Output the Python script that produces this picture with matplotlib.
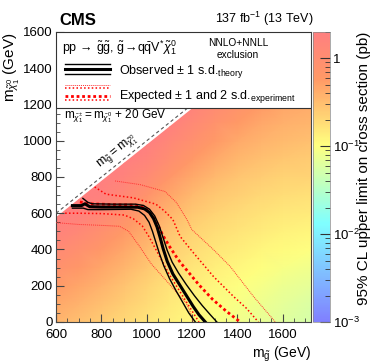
import numpy as np
import matplotlib
matplotlib.use('Agg')
import matplotlib.pyplot as plt
import matplotlib.tri as mtri
from matplotlib.colors import LinearSegmentedColormap, LogNorm
from matplotlib.ticker import MultipleLocator, FixedLocator, LogLocator, NullFormatter
from matplotlib.patches import Rectangle

plt.rcParams['font.family'] = ['Liberation Sans', 'DejaVu Sans']
plt.rcParams['mathtext.fontset'] = 'custom'
plt.rcParams['mathtext.rm'] = 'Liberation Sans'
plt.rcParams['mathtext.it'] = 'Liberation Sans:italic'
plt.rcParams['mathtext.bf'] = 'Liberation Sans:bold'

# ---------------- data ----------------
mg_cols = [600, 700, 800, 900, 1000, 1100, 1200, 1300, 1400, 1500, 1600, 1725]
mlsp_rows = [0, 100, 200, 300, 400, 500, 600, 700, 800, 900, 1000, 1100, 1200, 1300, 1400, 1500]
N = None
limit_table = [
    [0.36, 0.30, 0.25, 0.20, 0.165, 0.135, 0.115, 0.095, 0.085, 0.072, 0.062, 0.052],
    [0.45, 0.37, 0.30, 0.24, 0.19, 0.15, 0.125, 0.105, 0.092, 0.080, 0.068, 0.058],
    [0.60, 0.48, 0.37, 0.29, 0.22, 0.17, 0.14, 0.118, 0.102, 0.090, 0.078, 0.068],
    [0.85, 0.65, 0.48, 0.36, 0.27, 0.20, 0.16, 0.135, 0.118, 0.104, 0.092, 0.082],
    [1.20, 0.92, 0.65, 0.46, 0.33, 0.24, 0.19, 0.16, 0.14, 0.122, 0.110, 0.100],
    [1.65, 1.30, 0.90, 0.60, 0.42, 0.29, 0.22, 0.185, 0.162, 0.145, 0.130, 0.120],
    [N, 1.75, 1.30, 0.85, 0.55, 0.36, 0.27, 0.22, 0.19, 0.17, 0.155, 0.145],
    [N, N, 1.80, 1.25, 0.78, 0.48, 0.34, 0.27, 0.23, 0.20, 0.185, 0.175],
    [N, N, N, 1.70, 1.15, 0.68, 0.45, 0.34, 0.28, 0.245, 0.22, 0.21],
    [N, N, N, N, 1.60, 1.00, 0.62, 0.44, 0.35, 0.30, 0.27, 0.25],
    [N, N, N, N, N, 1.40, 0.90, 0.60, 0.45, 0.37, 0.33, 0.30],
    [N, N, N, N, N, N, 1.25, 0.82, 0.58, 0.46, 0.40, 0.36],
    [N, N, N, N, N, N, N, 1.15, 0.78, 0.58, 0.48, 0.43],
    [N, N, N, N, N, N, N, N, 1.05, 0.75, 0.60, 0.52],
    [N, N, N, N, N, N, N, N, N, 0.95, 0.75, 0.62],
    [N, N, N, N, N, N, N, N, N, N, 0.90, 0.72],
]
# limits just below the diagonal (m_LSP = m_gluino - 25 GeV)
diag_offset = 25
diag_limit = [2.0, 2.0, 2.0, 2.0, 2.0, 1.8, 1.6, 1.4, 1.25, 1.1, 1.0, 0.9]

obs_mg = [672, 712, 727, 748, 800, 900, 960, 990, 1012, 1030, 1045, 1058, 1072, 1090, 1115, 1145, 1175, 1205, 1230, 1258]
obs_ml = [642, 642, 652, 636, 634, 634, 633, 624, 604, 570, 525, 470, 405, 335, 265, 205, 145, 85, 40, 0]
obs_up_mg = [718, 740, 760, 850, 950, 985, 1012, 1035, 1055, 1072, 1090, 1112, 1140, 1175, 1210, 1245, 1280, 1309]
obs_up_ml = [682, 660, 652, 650, 650, 643, 622, 585, 530, 465, 395, 330, 270, 205, 145, 90, 40, 0]
obs_dn_mg = [672, 720, 740, 800, 930, 965, 990, 1010, 1025, 1040, 1055, 1075, 1100, 1130, 1160, 1185, 1214]
obs_dn_ml = [628, 628, 620, 620, 622, 612, 588, 550, 500, 440, 380, 310, 240, 170, 105, 50, 0]

exp_mg = [705, 750, 850, 950, 990, 1020, 1045, 1070, 1100, 1130, 1150, 1175, 1230, 1290, 1350, 1412]
exp_ml = [662, 652, 648, 645, 630, 595, 545, 480, 417, 360, 325, 288, 205, 125, 60, 0]
exp_p1_mg = [770, 820, 940, 1040, 1080, 1115, 1147, 1200, 1294, 1383, 1440, 1492]
exp_p1_ml = [745, 705, 685, 650, 610, 565, 472, 390, 251, 140, 75, 0]
exp_m1_mg = [640, 700, 800, 900, 940, 980, 1010, 1040, 1070, 1100, 1140, 1180, 1230]
exp_m1_ml = [600, 600, 598, 590, 570, 530, 470, 400, 330, 260, 180, 100, 0]
exp_p2_mg = [860, 970, 1080, 1130, 1150, 1177, 1199, 1250, 1294, 1368, 1471, 1567]
exp_p2_ml = [778, 758, 720, 660, 620, 565, 509, 450, 399, 306, 140, 0]
exp_m2_mg = [600, 700, 800, 880, 920, 968, 1020, 1086, 1130, 1174, 1195, 1205]
exp_m2_ml = [548, 538, 533, 528, 500, 417, 320, 228, 165, 105, 45, 0]

# ---------------- figure ----------------
fig = plt.figure(figsize=(3.74, 3.63), dpi=100)
ax = fig.add_axes([0.150, 0.113, 0.682, 0.799])
cax = fig.add_axes([0.836, 0.113, 0.046, 0.799])

cmap = LinearSegmentedColormap.from_list('cms', [
    (0.00, (0.50, 0.50, 1.00)),
    (0.34, (0.50, 1.00, 1.00)),
    (0.61, (1.00, 1.00, 0.50)),
    (0.84, (1.00, 0.60, 0.40)),
    (1.00, (1.00, 0.50, 0.50)),
])
norm = LogNorm(vmin=1e-3, vmax=2.0)

px, py, pz = [], [], []
for i, ml in enumerate(mlsp_rows):
    for j, mg in enumerate(mg_cols):
        v = limit_table[i][j]
        if v is not None:
            px.append(mg); py.append(ml); pz.append(v)
for mg, v in zip(mg_cols, diag_limit):
    px.append(mg); py.append(mg - diag_offset); pz.append(v)
tri = mtri.Triangulation(np.array(px, float), np.array(py, float))
mesh = ax.tripcolor(tri, np.array(pz), shading='gouraud', cmap=cmap, norm=norm, zorder=1)

xlim = (600, 1725)
ylim = (0, 1600)
ax.set_xlim(*xlim)
ax.set_ylim(*ylim)

# diagonal
ax.plot(xlim, xlim, color='#555555', lw=0.8, ls=(0, (3, 2.5)), zorder=3)
ax.text(872, 935, r'$\mathrm{m}_{\tilde{\mathrm{g}}} = \mathrm{m}_{\tilde{\chi}^{0}_{1}}$',
        rotation=38.6, rotation_mode='anchor', ha='center', va='center', fontsize=9, zorder=3)

# exclusion curves
red = '#ff0000'
ax.plot(exp_m2_mg, exp_m2_ml, color='#ff3030', lw=0.7, ls=(0, (1, 1)), zorder=4)
ax.plot(exp_p2_mg, exp_p2_ml, color='#ff3030', lw=0.7, ls=(0, (1, 1)), zorder=4)
ax.plot(exp_m1_mg, exp_m1_ml, color=red, lw=1.1, ls=(0, (1, 1.5)), zorder=4)
ax.plot(exp_p1_mg, exp_p1_ml, color=red, lw=1.1, ls=(0, (1, 1.5)), zorder=4)
ax.plot(exp_mg, exp_ml, color=red, lw=2.0, ls=(0, (1, 1)), zorder=4)
ax.plot(obs_up_mg, obs_up_ml, color='black', lw=1.0, zorder=5)
ax.plot(obs_dn_mg, obs_dn_ml, color='black', lw=1.0, zorder=5)
ax.plot(obs_mg, obs_ml, color='black', lw=2.2, zorder=5)

# legend box
box_y = 0.738
ax.add_patch(Rectangle((0, box_y), 1, 1 - box_y, transform=ax.transAxes,
                       facecolor='white', edgecolor='#333333', lw=0.8, zorder=8))
ax.text(0.023, 0.945, r'pp$\,\rightarrow\,\tilde{\mathrm{g}}\tilde{\mathrm{g}}$, $\tilde{\mathrm{g}}\!\rightarrow\!\mathrm{q}\bar{\mathrm{q}}\mathrm{V}^{*}\tilde{\chi}^{0}_{1}$',
        transform=ax.transAxes, fontsize=9, va='center', ha='left', zorder=9)
ax.text(0.714, 0.962, 'NNLO+NNLL', transform=ax.transAxes, fontsize=7.3, ha='center', va='center', zorder=9)
ax.text(0.714, 0.921, 'exclusion', transform=ax.transAxes, fontsize=7.3, ha='center', va='center', zorder=9)
lx = [0.035, 0.212]
ax.plot(lx, [0.888, 0.888], color='black', lw=1.0, transform=ax.transAxes, zorder=9)
ax.plot(lx, [0.871, 0.871], color='black', lw=2.2, transform=ax.transAxes, zorder=9)
ax.plot(lx, [0.856, 0.856], color='black', lw=1.0, transform=ax.transAxes, zorder=9)
ax.text(0.247, 0.864, r'Observed $\pm$ 1 s.d.$_{\mathrm{theory}}$', transform=ax.transAxes,
        fontsize=9, ha='left', va='center', zorder=9)
ax.plot(lx, [0.818, 0.818], color='#ff3030', lw=0.7, ls=(0, (1, 1)), transform=ax.transAxes, zorder=9)
ax.plot(lx, [0.806, 0.806], color=red, lw=1.1, ls=(0, (1, 1.5)), transform=ax.transAxes, zorder=9)
ax.plot(lx, [0.778, 0.778], color=red, lw=2.0, ls=(0, (1, 1)), transform=ax.transAxes, zorder=9)
ax.plot(lx, [0.766, 0.766], color=red, lw=1.1, ls=(0, (1, 1.5)), transform=ax.transAxes, zorder=9)
ax.text(0.247, 0.776, r'Expected $\pm$ 1 and 2 s.d.$_{\mathrm{experiment}}$', transform=ax.transAxes,
        fontsize=9, ha='left', va='center', zorder=9)

ax.text(0.031, 0.708, r'$\mathrm{m}_{\tilde{\chi}^{\pm}_{1}} = \mathrm{m}_{\tilde{\chi}^{0}_{1}}$ + 20 GeV',
        transform=ax.transAxes, fontsize=8.5, ha='left', va='center', zorder=9)

# header
ax.text(0.012, 1.015, 'CMS', transform=ax.transAxes, fontsize=12, fontweight='bold', ha='left', va='bottom')
ax.text(1.01, 1.012, r'137 fb$^{-1}$ (13 TeV)', transform=ax.transAxes, fontsize=9, ha='right', va='bottom')

# axes styling
for s in ax.spines.values():
    s.set_color('#444444')
    s.set_linewidth(0.8)
ax.xaxis.set_major_locator(MultipleLocator(200))
ax.xaxis.set_minor_locator(MultipleLocator(50))
ax.yaxis.set_major_locator(MultipleLocator(200))
ax.yaxis.set_minor_locator(MultipleLocator(50))
ax.tick_params(which='both', direction='in', color='#444444', labelsize=9.5, top=False, right=False)
ax.tick_params(which='major', length=6, width=0.8)
ax.tick_params(axis='x', which='major', pad=5)
ax.tick_params(axis='y', which='major', pad=2.5)
ax.tick_params(which='minor', length=3, width=0.6)
ax.text(1.0, -0.113, r'$\mathrm{m}_{\tilde{\mathrm{g}}}$ (GeV)', transform=ax.transAxes,
        fontsize=10, ha='right', va='center')
ax.text(-0.172, 1.0, r'$\mathrm{m}_{\tilde{\chi}^{0}_{1}}$ (GeV)', transform=ax.transAxes,
        fontsize=11, rotation=90, ha='center', va='top')

# colorbar
cb = fig.colorbar(mesh, cax=cax)
cb.outline.set_linewidth(0.5)
cb.outline.set_edgecolor('#888888')
cax.yaxis.set_major_locator(FixedLocator([1e-3, 1e-2, 1e-1, 1]))
cax.set_yticklabels([r'$10^{-3}$', r'$10^{-2}$', r'$10^{-1}$', '1'])
cax.yaxis.set_minor_locator(LogLocator(base=10, subs=np.arange(2, 10)))
cax.yaxis.set_minor_formatter(NullFormatter())
cax.tick_params(which='both', direction='in', color='#333333', labelsize=9.5, right=True, left=False)
cax.tick_params(which='major', length=7, width=0.8, pad=2)
cax.tick_params(which='minor', length=3.5, width=0.6)
fig.text(0.974, 0.912, '95% CL upper limit on cross section (pb)', fontsize=11,
         rotation=90, ha='center', va='top')

fig.savefig('out.png', dpi=100)
